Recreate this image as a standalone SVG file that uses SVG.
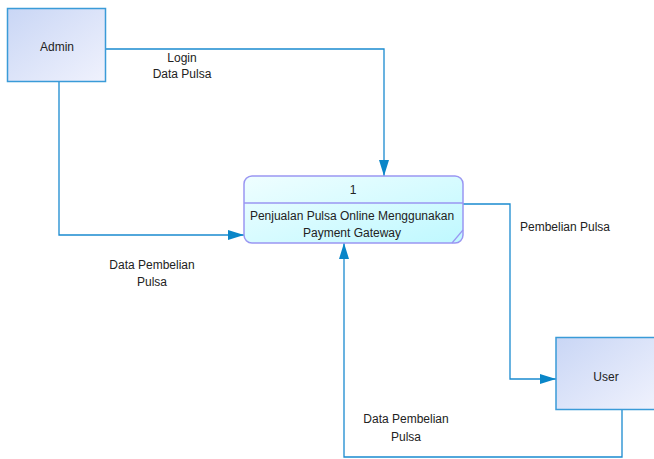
<svg xmlns="http://www.w3.org/2000/svg" width="654" height="459" viewBox="0 0 654 459">
<defs>
<linearGradient id="ent" x1="0" y1="0" x2="1" y2="1">
<stop offset="0" stop-color="#c9d6f5"/>
<stop offset="1" stop-color="#f0f2fd"/>
</linearGradient>
<linearGradient id="proc" x1="0" y1="0" x2="1" y2="1">
<stop offset="0" stop-color="#effeff"/>
<stop offset="1" stop-color="#bff8ff"/>
</linearGradient>
<marker id="arr" viewBox="0 0 16 10" refX="16" refY="5" markerWidth="16" markerHeight="10" markerUnits="userSpaceOnUse" orient="auto">
<path d="M0,0 L16,5 L0,10 Z" fill="#0a86c8"/>
</marker>
</defs>
<style>
text{font-family:"Liberation Sans",Arial,sans-serif;font-size:12px;fill:#222;text-anchor:middle}
.ent{fill:url(#ent);stroke:#3a9bd8;stroke-width:1.5}
.proc{fill:url(#proc);stroke:#9a96f2;stroke-width:1.5}
.flow{fill:none;stroke:#1a8ad0;stroke-width:1.3;marker-end:url(#arr)}
</style>
<rect width="654" height="459" fill="#fff"/>
<g id="connectors">
<polyline class="flow" points="106,49 384,49 384,176"/>
<polyline class="flow" points="59,82 59,235 244,235"/>
<polyline class="flow" points="463,204 510,204 510,379 556,379"/>
<polyline class="flow" points="622,410 622,457 344,457 344,243"/>
<text x="182" y="62">Login</text>
<text x="182" y="78">Data Pulsa</text>
<text x="565" y="231">Pembelian Pulsa</text>
<text x="152" y="269">Data Pembelian</text>
<text x="152" y="286">Pulsa</text>
<text x="406" y="423">Data Pembelian</text>
<text x="406" y="441">Pulsa</text>
</g>
<g id="admin">
<rect class="ent" x="7.5" y="8.5" width="98" height="73"/>
<text x="57" y="51">Admin</text>
</g>
<g id="process1">
<rect class="proc" x="244" y="176" width="219" height="67" rx="8"/>
<line x1="244" y1="203" x2="463" y2="203" stroke="#9a96f2" stroke-width="1.5"/>
<line x1="452" y1="243" x2="463" y2="230" stroke="#9a96f2" stroke-width="1.2"/>
<text x="353" y="194">1</text>
<text x="352" y="220">Penjualan Pulsa Online Menggunakan</text>
<text x="352" y="237">Payment Gateway</text>
</g>
<g id="user">
<rect class="ent" x="556" y="337.5" width="100" height="72"/>
<text x="606" y="381">User</text>
</g>
</svg>
